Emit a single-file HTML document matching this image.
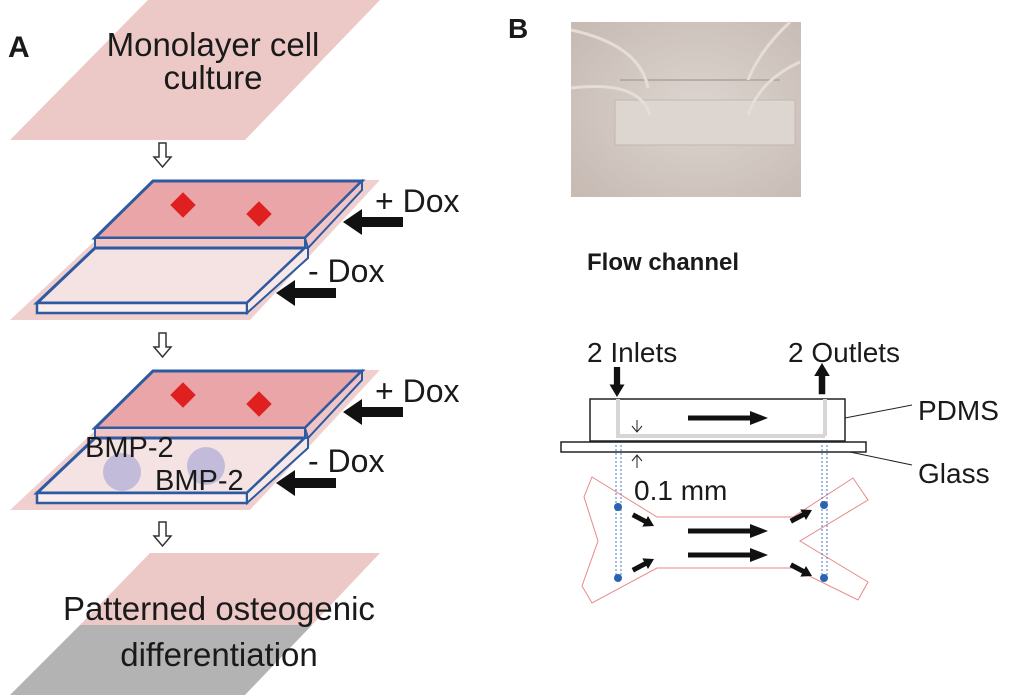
<!DOCTYPE html>
<html><head><meta charset="utf-8"><style>
html,body{margin:0;padding:0;background:#fff;width:1024px;height:696px;overflow:hidden}
svg text{font-family:"Liberation Sans",sans-serif;fill:#1a1a1a}
</style></head><body>
<svg width="1024" height="696" viewBox="0 0 1024 696" xmlns="http://www.w3.org/2000/svg">
<defs>
<radialGradient id="ph" cx="0.55" cy="0.5" r="0.7"><stop offset="0" stop-color="#ddd5d0"/><stop offset="1" stop-color="#c7bbb4"/></radialGradient>
<path id="big" d="M0,0 L19,-13 L19,-5 L60,-5 L60,5 L19,5 L19,13 z" fill="#111"/>
<path id="med" d="M0,0 L-18,-7 L-18,-2.5 L-80,-2.5 L-80,2.5 L-18,2.5 L-18,7 z" fill="#111"/>
<path id="sm" d="M0,0 L-10,-6 L-10,-2.5 L-24,-2.5 L-24,2.5 L-10,2.5 L-10,6 z" fill="#111"/>
</defs>
<text x="8" y="57" font-size="30" font-weight="bold">A</text>
<text x="508" y="38" font-size="28" font-weight="bold">B</text>

<polygon points="148,0 380,0 245,140 10,140" fill="#ecc9c7"/>
<text x="213" y="56" font-size="33" text-anchor="middle">Monolayer cell</text>
<text x="213" y="89" font-size="33" text-anchor="middle">culture</text>

<g fill="#fff" stroke="#333" stroke-width="1.5">
<path d="M159,143 h7 v14 h5 l-8.5,10 l-8.5,-10 h5 z"/>
<path d="M159,333 h7 v14 h5 l-8.5,10 l-8.5,-10 h5 z"/>
<path d="M159,522 h7 v14 h5 l-8.5,10 l-8.5,-10 h5 z"/>
</g>

<g id="s1">
<polygon points="160,180 380,180 250,320 10,320" fill="#efd0ce"/>
<polygon points="153,181 362,181 305,238 95,238" fill="#eaa5a8" stroke="#2d5aa0" stroke-width="3"/>
<polygon points="362,181 362,190 308,248 305,238" fill="#f1c5c5" stroke="#2d5aa0" stroke-width="2"/>
<polygon points="95,238 305,238 305,248 95,248" fill="#f1c5c5" stroke="#2d5aa0" stroke-width="2"/>
<polygon points="95,248 305,248 247,303 37,303" fill="#f5e3e3" stroke="#2d5aa0" stroke-width="3"/>
<polygon points="37,303 247,303 247,313 37,313" fill="#fbeeee" stroke="#2d5aa0" stroke-width="2.5"/>
<polygon points="305,248 308,248 308,258 247,313 247,303" fill="#f7e7e7" stroke="#2d5aa0" stroke-width="2"/>
<rect x="174" y="196" width="18" height="18" fill="#e02020" transform="rotate(45 183 205)"/>
<rect x="250" y="205" width="18" height="18" fill="#e02020" transform="rotate(45 259 214)"/>
<text x="375" y="212" font-size="32">+ Dox</text>
<use href="#big" x="343" y="222"/>
<text x="308" y="282" font-size="32">- Dox</text>
<use href="#big" x="276" y="293"/>
</g>
<use href="#s1" transform="translate(0,190)"/>
<circle cx="122" cy="472" r="19" fill="#b9b5d8" opacity="0.85"/>
<circle cx="206" cy="466" r="19" fill="#b9b5d8" opacity="0.85"/>
<text x="85" y="457" font-size="29">BMP-2</text>
<text x="155" y="490" font-size="29">BMP-2</text>

<polygon points="150,553 380,553 312,625 80,625" fill="#ecc9c7"/>
<polygon points="80,625 312,625 245,695 10,695" fill="#b3b3b3"/>
<text x="219" y="620" font-size="33" text-anchor="middle">Patterned osteogenic</text>
<text x="219" y="666" font-size="33" text-anchor="middle">differentiation</text>

<rect x="571" y="22" width="230" height="175" fill="url(#ph)"/>
<rect x="615" y="100" width="180" height="45" fill="#dcd5d0" stroke="#c2b8b1"/>
<path d="M620,80 H780" stroke="#b8aca4" stroke-width="2"/>
<path d="M571,30 Q640,45 648,88 M571,88 Q640,80 650,115 M790,22 Q760,50 748,80 M800,62 Q760,80 748,115" stroke="#e4ddd8" stroke-width="3" fill="none"/>

<text x="587" y="270" font-size="24" font-weight="bold">Flow channel</text>

<text x="587" y="362" font-size="28">2 Inlets</text>
<text x="788" y="362" font-size="28">2 Outlets</text>
<use href="#sm" transform="translate(617,397) rotate(90) scale(1.25)"/>
<use href="#sm" transform="translate(822,363) rotate(-90) scale(1.3)"/>
<rect x="590" y="399" width="255" height="42" fill="#fff" stroke="#222" stroke-width="1.5"/>
<path d="M618,399 V436 H825 M825,399 V436" stroke="#d6d6d6" stroke-width="4" fill="none"/>
<rect x="561" y="442" width="305" height="10" fill="#fff" stroke="#222" stroke-width="1.5"/>
<use href="#med" x="768" y="418"/>
<path d="M637,420 V432 M632,426 L637,432 L642,426 M637,455 V468 M632,461 L637,455 L642,461" stroke="#222" stroke-width="1" fill="none"/>
<path d="M845,418 L912,405 M850,452 L912,465" stroke="#222" stroke-width="1"/>
<text x="918" y="420" font-size="28">PDMS</text>
<text x="918" y="483" font-size="28">Glass</text>
<text x="634" y="500" font-size="28">0.1 mm</text>

<polygon points="592,477 657,517 793,517 853,478 868,500 800,541 868,582 858,600 793,568 657,568 592,603 582,586 598,541 584,497" fill="none" stroke="#e88888" stroke-width="1"/>
<g stroke="#4a78c8" stroke-width="1" stroke-dasharray="2,2">
<path d="M616,445 V580 M621,445 V580 M822,445 V580 M827,445 V580"/>
</g>
<g fill="#2a63b0"><circle cx="618" cy="507" r="4"/><circle cx="618" cy="578" r="4"/><circle cx="824" cy="505" r="4"/><circle cx="824" cy="578" r="4"/></g>
<use href="#sm" transform="translate(654,526) rotate(28)"/>
<use href="#sm" transform="translate(654,559) rotate(-28)"/>
<use href="#sm" transform="translate(812,510) rotate(-28)"/>
<use href="#sm" transform="translate(812,576) rotate(28)"/>
<use href="#med" x="768" y="531"/>
<use href="#med" x="768" y="555"/>
</svg>
</body></html>
